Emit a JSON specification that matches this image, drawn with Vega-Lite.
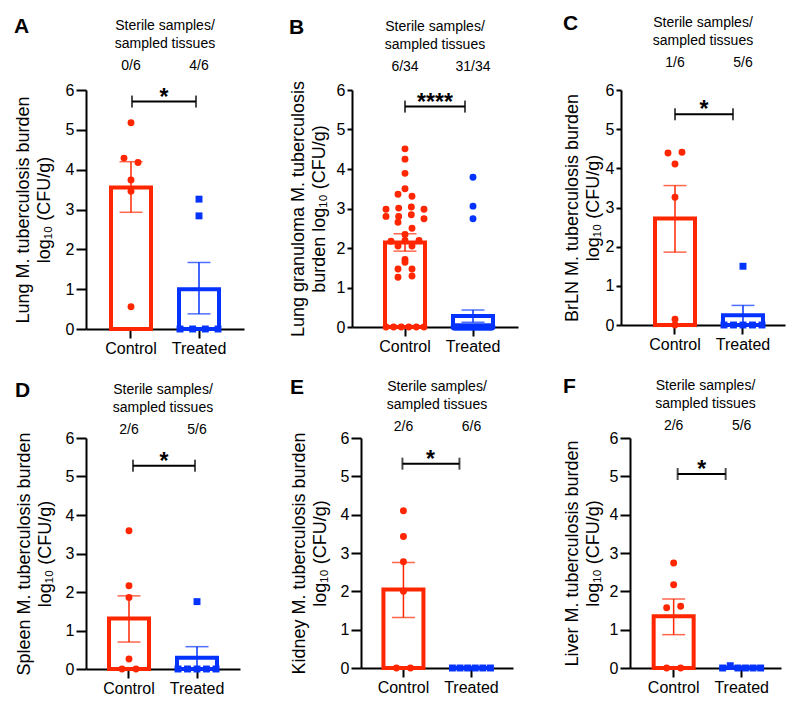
{
  "$schema": "https://vega.github.io/schema/vega-lite/v6.json",
  "padding": {"left": 14, "top": 12, "right": 4, "bottom": 4},
  "datasets": {
    "pts": [
      {"panel": "A", "group": "Control", "value": 5.18},
      {"panel": "A", "group": "Control", "value": 4.29},
      {"panel": "A", "group": "Control", "value": 4.18},
      {"panel": "A", "group": "Control", "value": 3.74},
      {"panel": "A", "group": "Control", "value": 3.46},
      {"panel": "A", "group": "Control", "value": 0.56},
      {"panel": "A", "group": "Treated", "value": 3.26},
      {"panel": "A", "group": "Treated", "value": 2.84},
      {"panel": "A", "group": "Treated", "value": 0},
      {"panel": "A", "group": "Treated", "value": 0},
      {"panel": "A", "group": "Treated", "value": 0},
      {"panel": "A", "group": "Treated", "value": 0},
      {"panel": "B", "group": "Control", "value": 4.51},
      {"panel": "B", "group": "Control", "value": 4.25},
      {"panel": "B", "group": "Control", "value": 3.89},
      {"panel": "B", "group": "Control", "value": 3.5},
      {"panel": "B", "group": "Control", "value": 3.36},
      {"panel": "B", "group": "Control", "value": 3.31},
      {"panel": "B", "group": "Control", "value": 2.98},
      {"panel": "B", "group": "Control", "value": 3.01},
      {"panel": "B", "group": "Control", "value": 3.04},
      {"panel": "B", "group": "Control", "value": 2.98},
      {"panel": "B", "group": "Control", "value": 2.8},
      {"panel": "B", "group": "Control", "value": 2.8},
      {"panel": "B", "group": "Control", "value": 2.84},
      {"panel": "B", "group": "Control", "value": 2.74},
      {"panel": "B", "group": "Control", "value": 2.65},
      {"panel": "B", "group": "Control", "value": 2.5},
      {"panel": "B", "group": "Control", "value": 2.34},
      {"panel": "B", "group": "Control", "value": 2.17},
      {"panel": "B", "group": "Control", "value": 2.19},
      {"panel": "B", "group": "Control", "value": 2.19},
      {"panel": "B", "group": "Control", "value": 2.05},
      {"panel": "B", "group": "Control", "value": 2.05},
      {"panel": "B", "group": "Control", "value": 1.71},
      {"panel": "B", "group": "Control", "value": 1.64},
      {"panel": "B", "group": "Control", "value": 1.47},
      {"panel": "B", "group": "Control", "value": 1.47},
      {"panel": "B", "group": "Control", "value": 1.26},
      {"panel": "B", "group": "Control", "value": 1.29},
      {"panel": "B", "group": "Control", "value": 0},
      {"panel": "B", "group": "Control", "value": 0},
      {"panel": "B", "group": "Control", "value": 0},
      {"panel": "B", "group": "Control", "value": 0},
      {"panel": "B", "group": "Control", "value": 0},
      {"panel": "B", "group": "Control", "value": 0},
      {"panel": "B", "group": "Treated", "value": 3.79},
      {"panel": "B", "group": "Treated", "value": 3.06},
      {"panel": "B", "group": "Treated", "value": 2.74},
      {"panel": "B", "group": "Treated", "value": 0},
      {"panel": "B", "group": "Treated", "value": 0},
      {"panel": "B", "group": "Treated", "value": 0},
      {"panel": "B", "group": "Treated", "value": 0},
      {"panel": "B", "group": "Treated", "value": 0},
      {"panel": "B", "group": "Treated", "value": 0},
      {"panel": "B", "group": "Treated", "value": 0},
      {"panel": "B", "group": "Treated", "value": 0},
      {"panel": "B", "group": "Treated", "value": 0},
      {"panel": "B", "group": "Treated", "value": 0},
      {"panel": "B", "group": "Treated", "value": 0},
      {"panel": "B", "group": "Treated", "value": 0},
      {"panel": "B", "group": "Treated", "value": 0},
      {"panel": "B", "group": "Treated", "value": 0},
      {"panel": "B", "group": "Treated", "value": 0},
      {"panel": "B", "group": "Treated", "value": 0},
      {"panel": "B", "group": "Treated", "value": 0},
      {"panel": "B", "group": "Treated", "value": 0},
      {"panel": "B", "group": "Treated", "value": 0},
      {"panel": "B", "group": "Treated", "value": 0},
      {"panel": "B", "group": "Treated", "value": 0},
      {"panel": "B", "group": "Treated", "value": 0},
      {"panel": "B", "group": "Treated", "value": 0},
      {"panel": "B", "group": "Treated", "value": 0},
      {"panel": "B", "group": "Treated", "value": 0},
      {"panel": "B", "group": "Treated", "value": 0},
      {"panel": "B", "group": "Treated", "value": 0},
      {"panel": "B", "group": "Treated", "value": 0},
      {"panel": "B", "group": "Treated", "value": 0},
      {"panel": "B", "group": "Treated", "value": 0},
      {"panel": "B", "group": "Treated", "value": 0},
      {"panel": "C", "group": "Control", "value": 4.39},
      {"panel": "C", "group": "Control", "value": 4.41},
      {"panel": "C", "group": "Control", "value": 4.11},
      {"panel": "C", "group": "Control", "value": 3.26},
      {"panel": "C", "group": "Control", "value": 0},
      {"panel": "C", "group": "Control", "value": 0.15},
      {"panel": "C", "group": "Treated", "value": 1.5},
      {"panel": "C", "group": "Treated", "value": 0},
      {"panel": "C", "group": "Treated", "value": 0},
      {"panel": "C", "group": "Treated", "value": 0},
      {"panel": "C", "group": "Treated", "value": 0},
      {"panel": "C", "group": "Treated", "value": 0},
      {"panel": "D", "group": "Control", "value": 3.59},
      {"panel": "D", "group": "Control", "value": 2.16},
      {"panel": "D", "group": "Control", "value": 1.86},
      {"panel": "D", "group": "Control", "value": 0.26},
      {"panel": "D", "group": "Control", "value": 0},
      {"panel": "D", "group": "Control", "value": 0},
      {"panel": "D", "group": "Treated", "value": 1.75},
      {"panel": "D", "group": "Treated", "value": 0},
      {"panel": "D", "group": "Treated", "value": 0},
      {"panel": "D", "group": "Treated", "value": 0},
      {"panel": "D", "group": "Treated", "value": 0},
      {"panel": "D", "group": "Treated", "value": 0},
      {"panel": "E", "group": "Control", "value": 4.1},
      {"panel": "E", "group": "Control", "value": 3.43},
      {"panel": "E", "group": "Control", "value": 2.77},
      {"panel": "E", "group": "Control", "value": 2.0},
      {"panel": "E", "group": "Control", "value": 0},
      {"panel": "E", "group": "Control", "value": 0},
      {"panel": "E", "group": "Treated", "value": 0},
      {"panel": "E", "group": "Treated", "value": 0},
      {"panel": "E", "group": "Treated", "value": 0},
      {"panel": "E", "group": "Treated", "value": 0},
      {"panel": "E", "group": "Treated", "value": 0},
      {"panel": "E", "group": "Treated", "value": 0},
      {"panel": "F", "group": "Control", "value": 2.74},
      {"panel": "F", "group": "Control", "value": 2.17},
      {"panel": "F", "group": "Control", "value": 1.57},
      {"panel": "F", "group": "Control", "value": 1.61},
      {"panel": "F", "group": "Control", "value": 0},
      {"panel": "F", "group": "Control", "value": 0},
      {"panel": "F", "group": "Treated", "value": 0},
      {"panel": "F", "group": "Treated", "value": 0.06},
      {"panel": "F", "group": "Treated", "value": 0},
      {"panel": "F", "group": "Treated", "value": 0},
      {"panel": "F", "group": "Treated", "value": 0},
      {"panel": "F", "group": "Treated", "value": 0}
    ],
    "bars": [
      {"panel": "A", "group": "Control", "mean": 3.55, "lo": 2.93, "hi": 4.2},
      {"panel": "A", "group": "Treated", "mean": 1.0, "lo": 0.38, "hi": 1.67},
      {"panel": "B", "group": "Control", "mean": 2.14, "lo": 1.92, "hi": 2.36},
      {"panel": "B", "group": "Treated", "mean": 0.28, "lo": 0.12, "hi": 0.43},
      {"panel": "C", "group": "Control", "mean": 2.72, "lo": 1.86, "hi": 3.56},
      {"panel": "C", "group": "Treated", "mean": 0.25, "lo": 0.0, "hi": 0.5},
      {"panel": "D", "group": "Control", "mean": 1.31, "lo": 0.7, "hi": 1.9},
      {"panel": "D", "group": "Treated", "mean": 0.29, "lo": 0.0, "hi": 0.58},
      {"panel": "E", "group": "Control", "mean": 2.05, "lo": 1.32, "hi": 2.75},
      {"panel": "E", "group": "Treated", "mean": 0.0, "lo": 0.0, "hi": 0.0},
      {"panel": "F", "group": "Control", "mean": 1.35, "lo": 0.87, "hi": 1.8},
      {"panel": "F", "group": "Treated", "mean": 0.01, "lo": 0.0, "hi": 0.02}
    ],
    "cnt": [
      {"panel": "A", "group": "Control", "label": "0/6"},
      {"panel": "A", "group": "Treated", "label": "4/6"},
      {"panel": "B", "group": "Control", "label": "6/34"},
      {"panel": "B", "group": "Treated", "label": "31/34"},
      {"panel": "C", "group": "Control", "label": "1/6"},
      {"panel": "C", "group": "Treated", "label": "5/6"},
      {"panel": "D", "group": "Control", "label": "2/6"},
      {"panel": "D", "group": "Treated", "label": "5/6"},
      {"panel": "E", "group": "Control", "label": "2/6"},
      {"panel": "E", "group": "Treated", "label": "6/6"},
      {"panel": "F", "group": "Control", "label": "2/6"},
      {"panel": "F", "group": "Treated", "label": "5/6"}
    ],
    "sig": [
      {"panel": "A", "y": 5.71, "stars": "*"},
      {"panel": "B", "y": 5.58, "stars": "****"},
      {"panel": "C", "y": 5.38, "stars": "*"},
      {"panel": "D", "y": 5.28, "stars": "*"},
      {"panel": "E", "y": 5.33, "stars": "*"},
      {"panel": "F", "y": 5.06, "stars": "*"}
    ]
  },
  "spacing": 20,
  "vconcat": [
    {
      "spacing": 45,
      "hconcat": [
        {
          "title": {"text": "A", "anchor": "start", "offset": -18, "fontSize": 21, "fontWeight": "bold", "color": "black"},
          "vconcat": [{
            "width": 158, "height": 239,
            "title": {"text": ["Sterile samples/", "sampled tissues"], "frame": "group", "anchor": "middle", "fontSize": 14, "fontWeight": "normal", "lineHeight": 18, "offset": 8, "color": "black"},
            "resolve": {"scale": {"xOffset": "independent"}},
            "layer": [
              {"data": {"name": "bars"}, "transform": [{"filter": "datum.panel === 'A'"}],
               "mark": {"type": "bar", "filled": false, "strokeWidth": 4, "strokeJoin": "miter"},
               "encoding": {
                 "x": {"field": "group", "type": "nominal", "scale": {"domain": ["Control", "Treated"], "paddingInner": 0.4118, "paddingOuter": 0.3676, "align": 0.5}, "axis": {"title": null}},
                 "y": {"field": "mean", "type": "quantitative", "scale": {"domain": [0, 6], "nice": false}, "axis": {"values": [0, 1, 2, 3, 4, 5, 6], "tickCount": 7, "tickSize": 10, "titlePadding": 12, "title": ["Lung M. tuberculosis burden", "log₁₀ (CFU/g)"]}},
                 "color": {"field": "group", "type": "nominal", "scale": {"domain": ["Control", "Treated"], "range": ["#FF2600", "#0433FF"]}, "legend": null}}},
              {"data": {"name": "bars"}, "transform": [{"filter": "datum.panel === 'A'"}],
               "mark": {"type": "rule", "strokeWidth": 1.5},
               "encoding": {"x": {"field": "group", "type": "nominal"}, "y": {"field": "lo", "type": "quantitative", "axis": {"values": [0, 1, 2, 3, 4, 5, 6], "tickCount": 7}}, "y2": {"field": "hi"}, "color": {"field": "group", "type": "nominal", "legend": null}}},
              {"data": {"name": "bars"}, "transform": [{"filter": "datum.panel === 'A'"}],
               "mark": {"type": "tick", "size": 23, "thickness": 1.5},
               "encoding": {"x": {"field": "group", "type": "nominal"}, "y": {"field": "hi", "type": "quantitative", "axis": {"values": [0, 1, 2, 3, 4, 5, 6], "tickCount": 7}}, "color": {"field": "group", "type": "nominal", "legend": null}}},
              {"data": {"name": "bars"}, "transform": [{"filter": "datum.panel === 'A'"}],
               "mark": {"type": "tick", "size": 23, "thickness": 1.5},
               "encoding": {"x": {"field": "group", "type": "nominal"}, "y": {"field": "lo", "type": "quantitative", "axis": {"values": [0, 1, 2, 3, 4, 5, 6], "tickCount": 7}}, "color": {"field": "group", "type": "nominal", "legend": null}}},
              {"data": {"name": "pts"}, "transform": [
                 {"filter": "datum.panel === 'A'"},
                 {"bin": {"step": 0.2, "anchor": 0.1}, "field": "value", "as": "vb"},
                 {"window": [{"op": "row_number", "as": "rn"}, {"op": "count", "as": "cnt"}], "groupby": ["group", "vb"], "frame": [null, null]},
                 {"calculate": "(datum.rn - (datum.cnt + 1) / 2) * min(14, 38 / max(datum.cnt - 1, 1))", "as": "off"}],
               "mark": {"type": "point", "filled": true, "size": 48, "opacity": 1},
               "encoding": {"x": {"field": "group", "type": "nominal"}, "xOffset": {"field": "off", "type": "quantitative", "scale": {"domain": [-20, 20], "range": [0, 40]}}, "y": {"field": "value", "type": "quantitative", "axis": {"values": [0, 1, 2, 3, 4, 5, 6], "tickCount": 7}},
                 "color": {"field": "group", "type": "nominal", "legend": null},
                 "shape": {"field": "group", "type": "nominal", "scale": {"domain": ["Control", "Treated"], "range": ["circle", "square"]}, "legend": null}}},
              {"data": {"name": "cnt"}, "transform": [{"filter": "datum.panel === 'A'"}],
               "mark": {"type": "text", "fontSize": 14, "baseline": "middle", "color": "black"},
               "encoding": {"x": {"field": "group", "type": "nominal"}, "y": {"datum": 6.6, "type": "quantitative"}, "text": {"field": "label"}}},
              {"data": {"name": "sig"}, "transform": [{"filter": "datum.panel === 'A'"}],
               "mark": {"type": "rule", "strokeWidth": 2, "color": "black", "xOffset": 1, "x2Offset": -3},
               "encoding": {"x": {"datum": "Control", "type": "nominal"}, "x2": {"datum": "Treated"}, "y": {"field": "y", "type": "quantitative", "axis": {"values": [0, 1, 2, 3, 4, 5, 6], "tickCount": 7}}}},
              {"data": {"name": "sig"}, "transform": [{"filter": "datum.panel === 'A'"}],
               "mark": {"type": "tick", "orient": "vertical", "size": 12, "thickness": 2, "color": "black", "xOffset": 1},
               "encoding": {"x": {"datum": "Control", "type": "nominal"}, "y": {"field": "y", "type": "quantitative", "axis": {"values": [0, 1, 2, 3, 4, 5, 6], "tickCount": 7}}}},
              {"data": {"name": "sig"}, "transform": [{"filter": "datum.panel === 'A'"}],
               "mark": {"type": "tick", "orient": "vertical", "size": 12, "thickness": 2, "color": "black", "xOffset": -3},
               "encoding": {"x": {"datum": "Treated", "type": "nominal"}, "y": {"field": "y", "type": "quantitative", "axis": {"values": [0, 1, 2, 3, 4, 5, 6], "tickCount": 7}}}},
              {"data": {"name": "sig"}, "transform": [{"filter": "datum.panel === 'A'"}],
               "mark": {"type": "text", "fontSize": 23, "fontWeight": "bold", "dx": 33, "dy": 3, "baseline": "alphabetic", "color": "black"},
               "encoding": {"x": {"datum": "Control", "type": "nominal"}, "y": {"field": "y", "type": "quantitative", "axis": {"values": [0, 1, 2, 3, 4, 5, 6], "tickCount": 7}}, "text": {"field": "stars"}}}
            ]
          }]
        },
        {
          "title": {"text": "B", "anchor": "start", "offset": -18, "fontSize": 21, "fontWeight": "bold", "color": "black"},
          "vconcat": [{
            "width": 166, "height": 237,
            "title": {"text": ["Sterile samples/", "sampled tissues"], "frame": "group", "anchor": "middle", "fontSize": 14, "fontWeight": "normal", "lineHeight": 18, "offset": 8, "color": "black"},
            "resolve": {"scale": {"xOffset": "independent"}},
            "layer": [
              {"data": {"name": "bars"}, "transform": [{"filter": "datum.panel === 'B'"}],
               "mark": {"type": "bar", "filled": false, "strokeWidth": 4, "strokeJoin": "miter"},
               "encoding": {
                 "x": {"field": "group", "type": "nominal", "scale": {"domain": ["Control", "Treated"], "paddingInner": 0.4118, "paddingOuter": 0.4265, "align": 0.569}, "axis": {"title": null}},
                 "y": {"field": "mean", "type": "quantitative", "scale": {"domain": [0, 6], "nice": false}, "axis": {"values": [0, 1, 2, 3, 4, 5, 6], "tickCount": 7, "tickSize": 5, "titlePadding": 8, "title": ["Lung granuloma M. tuberculosis", "burden log₁₀ (CFU/g)"]}},
                 "color": {"field": "group", "type": "nominal", "scale": {"domain": ["Control", "Treated"], "range": ["#FF2600", "#0433FF"]}, "legend": null}}},
              {"data": {"name": "bars"}, "transform": [{"filter": "datum.panel === 'B'"}],
               "mark": {"type": "rule", "strokeWidth": 1.5},
               "encoding": {"x": {"field": "group", "type": "nominal"}, "y": {"field": "lo", "type": "quantitative", "axis": {"values": [0, 1, 2, 3, 4, 5, 6], "tickCount": 7}}, "y2": {"field": "hi"}, "color": {"field": "group", "type": "nominal", "legend": null}}},
              {"data": {"name": "bars"}, "transform": [{"filter": "datum.panel === 'B'"}],
               "mark": {"type": "tick", "size": 23, "thickness": 1.5},
               "encoding": {"x": {"field": "group", "type": "nominal"}, "y": {"field": "hi", "type": "quantitative", "axis": {"values": [0, 1, 2, 3, 4, 5, 6], "tickCount": 7}}, "color": {"field": "group", "type": "nominal", "legend": null}}},
              {"data": {"name": "bars"}, "transform": [{"filter": "datum.panel === 'B'"}],
               "mark": {"type": "tick", "size": 23, "thickness": 1.5},
               "encoding": {"x": {"field": "group", "type": "nominal"}, "y": {"field": "lo", "type": "quantitative", "axis": {"values": [0, 1, 2, 3, 4, 5, 6], "tickCount": 7}}, "color": {"field": "group", "type": "nominal", "legend": null}}},
              {"data": {"name": "pts"}, "transform": [
                 {"filter": "datum.panel === 'B'"},
                 {"bin": {"step": 0.2, "anchor": 0.1}, "field": "value", "as": "vb"},
                 {"window": [{"op": "row_number", "as": "rn"}, {"op": "count", "as": "cnt"}], "groupby": ["group", "vb"], "frame": [null, null]},
                 {"calculate": "(datum.rn - (datum.cnt + 1) / 2) * min(14, 38 / max(datum.cnt - 1, 1))", "as": "off"}],
               "mark": {"type": "point", "filled": true, "size": 48, "opacity": 1, "shape": "circle"},
               "encoding": {"x": {"field": "group", "type": "nominal"}, "xOffset": {"field": "off", "type": "quantitative", "scale": {"domain": [-20, 20], "range": [0, 40]}}, "y": {"field": "value", "type": "quantitative", "axis": {"values": [0, 1, 2, 3, 4, 5, 6], "tickCount": 7}},
                 "color": {"field": "group", "type": "nominal", "legend": null}}},
              {"data": {"name": "cnt"}, "transform": [{"filter": "datum.panel === 'B'"}],
               "mark": {"type": "text", "fontSize": 14, "baseline": "middle", "color": "black"},
               "encoding": {"x": {"field": "group", "type": "nominal"}, "y": {"datum": 6.59, "type": "quantitative"}, "text": {"field": "label"}}},
              {"data": {"name": "sig"}, "transform": [{"filter": "datum.panel === 'B'"}],
               "mark": {"type": "rule", "strokeWidth": 2, "color": "black", "xOffset": 0, "x2Offset": -8},
               "encoding": {"x": {"datum": "Control", "type": "nominal"}, "x2": {"datum": "Treated"}, "y": {"field": "y", "type": "quantitative", "axis": {"values": [0, 1, 2, 3, 4, 5, 6], "tickCount": 7}}}},
              {"data": {"name": "sig"}, "transform": [{"filter": "datum.panel === 'B'"}],
               "mark": {"type": "tick", "orient": "vertical", "size": 12, "thickness": 2, "color": "black", "xOffset": 0},
               "encoding": {"x": {"datum": "Control", "type": "nominal"}, "y": {"field": "y", "type": "quantitative", "axis": {"values": [0, 1, 2, 3, 4, 5, 6], "tickCount": 7}}}},
              {"data": {"name": "sig"}, "transform": [{"filter": "datum.panel === 'B'"}],
               "mark": {"type": "tick", "orient": "vertical", "size": 12, "thickness": 2, "color": "black", "xOffset": -8},
               "encoding": {"x": {"datum": "Treated", "type": "nominal"}, "y": {"field": "y", "type": "quantitative", "axis": {"values": [0, 1, 2, 3, 4, 5, 6], "tickCount": 7}}}},
              {"data": {"name": "sig"}, "transform": [{"filter": "datum.panel === 'B'"}],
               "mark": {"type": "text", "fontSize": 23, "fontWeight": "bold", "dx": 30, "dy": 3, "baseline": "alphabetic", "color": "black"},
               "encoding": {"x": {"datum": "Control", "type": "nominal"}, "y": {"field": "y", "type": "quantitative", "axis": {"values": [0, 1, 2, 3, 4, 5, 6], "tickCount": 7}}, "text": {"field": "stars"}}}
            ]
          }]
        },
        {
          "title": {"text": "C", "anchor": "start", "offset": -18, "fontSize": 21, "fontWeight": "bold", "color": "black"},
          "vconcat": [{
            "width": 164, "height": 235,
            "title": {"text": ["Sterile samples/", "sampled tissues"], "frame": "group", "anchor": "middle", "fontSize": 14, "fontWeight": "normal", "lineHeight": 18, "offset": 8, "color": "black"},
            "resolve": {"scale": {"xOffset": "independent"}},
            "layer": [
              {"data": {"name": "bars"}, "transform": [{"filter": "datum.panel === 'C'"}],
               "mark": {"type": "bar", "filled": false, "strokeWidth": 4, "strokeJoin": "miter"},
               "encoding": {
                 "x": {"field": "group", "type": "nominal", "scale": {"domain": ["Control", "Treated"], "paddingInner": 0.4118, "paddingOuter": 0.4118, "align": 0.607}, "axis": {"title": null}},
                 "y": {"field": "mean", "type": "quantitative", "scale": {"domain": [0, 6], "nice": false}, "axis": {"values": [0, 1, 2, 3, 4, 5, 6], "tickCount": 7, "tickSize": 5, "titlePadding": 3, "title": ["BrLN M. tuberculosis burden", "log₁₀ (CFU/g)"]}},
                 "color": {"field": "group", "type": "nominal", "scale": {"domain": ["Control", "Treated"], "range": ["#FF2600", "#0433FF"]}, "legend": null}}},
              {"data": {"name": "bars"}, "transform": [{"filter": "datum.panel === 'C'"}],
               "mark": {"type": "rule", "strokeWidth": 1.5},
               "encoding": {"x": {"field": "group", "type": "nominal"}, "y": {"field": "lo", "type": "quantitative", "axis": {"values": [0, 1, 2, 3, 4, 5, 6], "tickCount": 7}}, "y2": {"field": "hi"}, "color": {"field": "group", "type": "nominal", "legend": null}}},
              {"data": {"name": "bars"}, "transform": [{"filter": "datum.panel === 'C'"}],
               "mark": {"type": "tick", "size": 23, "thickness": 1.5},
               "encoding": {"x": {"field": "group", "type": "nominal"}, "y": {"field": "hi", "type": "quantitative", "axis": {"values": [0, 1, 2, 3, 4, 5, 6], "tickCount": 7}}, "color": {"field": "group", "type": "nominal", "legend": null}}},
              {"data": {"name": "bars"}, "transform": [{"filter": "datum.panel === 'C'"}],
               "mark": {"type": "tick", "size": 23, "thickness": 1.5},
               "encoding": {"x": {"field": "group", "type": "nominal"}, "y": {"field": "lo", "type": "quantitative", "axis": {"values": [0, 1, 2, 3, 4, 5, 6], "tickCount": 7}}, "color": {"field": "group", "type": "nominal", "legend": null}}},
              {"data": {"name": "pts"}, "transform": [
                 {"filter": "datum.panel === 'C'"},
                 {"bin": {"step": 0.2, "anchor": 0.1}, "field": "value", "as": "vb"},
                 {"window": [{"op": "row_number", "as": "rn"}, {"op": "count", "as": "cnt"}], "groupby": ["group", "vb"], "frame": [null, null]},
                 {"calculate": "(datum.rn - (datum.cnt + 1) / 2) * min(14, 38 / max(datum.cnt - 1, 1))", "as": "off"}],
               "mark": {"type": "point", "filled": true, "size": 48, "opacity": 1},
               "encoding": {"x": {"field": "group", "type": "nominal"}, "xOffset": {"field": "off", "type": "quantitative", "scale": {"domain": [-20, 20], "range": [0, 40]}}, "y": {"field": "value", "type": "quantitative", "axis": {"values": [0, 1, 2, 3, 4, 5, 6], "tickCount": 7}},
                 "color": {"field": "group", "type": "nominal", "legend": null},
                 "shape": {"field": "group", "type": "nominal", "scale": {"domain": ["Control", "Treated"], "range": ["circle", "square"]}, "legend": null}}},
              {"data": {"name": "cnt"}, "transform": [{"filter": "datum.panel === 'C'"}],
               "mark": {"type": "text", "fontSize": 14, "baseline": "middle", "color": "black"},
               "encoding": {"x": {"field": "group", "type": "nominal"}, "y": {"datum": 6.7, "type": "quantitative"}, "text": {"field": "label"}}},
              {"data": {"name": "sig"}, "transform": [{"filter": "datum.panel === 'C'"}],
               "mark": {"type": "rule", "strokeWidth": 2, "color": "black", "xOffset": 0, "x2Offset": -10},
               "encoding": {"x": {"datum": "Control", "type": "nominal"}, "x2": {"datum": "Treated"}, "y": {"field": "y", "type": "quantitative", "axis": {"values": [0, 1, 2, 3, 4, 5, 6], "tickCount": 7}}}},
              {"data": {"name": "sig"}, "transform": [{"filter": "datum.panel === 'C'"}],
               "mark": {"type": "tick", "orient": "vertical", "size": 12, "thickness": 2, "color": "black", "xOffset": 0},
               "encoding": {"x": {"datum": "Control", "type": "nominal"}, "y": {"field": "y", "type": "quantitative", "axis": {"values": [0, 1, 2, 3, 4, 5, 6], "tickCount": 7}}}},
              {"data": {"name": "sig"}, "transform": [{"filter": "datum.panel === 'C'"}],
               "mark": {"type": "tick", "orient": "vertical", "size": 12, "thickness": 2, "color": "black", "xOffset": -10},
               "encoding": {"x": {"datum": "Treated", "type": "nominal"}, "y": {"field": "y", "type": "quantitative", "axis": {"values": [0, 1, 2, 3, 4, 5, 6], "tickCount": 7}}}},
              {"data": {"name": "sig"}, "transform": [{"filter": "datum.panel === 'C'"}],
               "mark": {"type": "text", "fontSize": 23, "fontWeight": "bold", "dx": 29, "dy": 3, "baseline": "alphabetic", "color": "black"},
               "encoding": {"x": {"datum": "Control", "type": "nominal"}, "y": {"field": "y", "type": "quantitative", "axis": {"values": [0, 1, 2, 3, 4, 5, 6], "tickCount": 7}}, "text": {"field": "stars"}}}
            ]
          }]
        }
      ]
    },
    {
      "spacing": 50,
      "hconcat": [
        {
          "title": {"text": "D", "anchor": "start", "offset": -18, "fontSize": 21, "fontWeight": "bold", "color": "black"},
          "vconcat": [{
            "width": 154, "height": 231,
            "title": {"text": ["Sterile samples/", "sampled tissues"], "frame": "group", "anchor": "middle", "fontSize": 14, "fontWeight": "normal", "lineHeight": 18, "offset": 8, "color": "black"},
            "resolve": {"scale": {"xOffset": "independent"}},
            "layer": [
              {"data": {"name": "bars"}, "transform": [{"filter": "datum.panel === 'D'"}],
               "mark": {"type": "bar", "filled": false, "strokeWidth": 4, "strokeJoin": "miter"},
               "encoding": {
                 "x": {"field": "group", "type": "nominal", "scale": {"domain": ["Control", "Treated"], "paddingInner": 0.4118, "paddingOuter": 0.338, "align": 0.5}, "axis": {"title": null}},
                 "y": {"field": "mean", "type": "quantitative", "scale": {"domain": [0, 6], "nice": false}, "axis": {"values": [0, 1, 2, 3, 4, 5, 6], "tickCount": 7, "tickSize": 10, "titlePadding": 11, "title": ["Spleen M. tuberculosis burden", "log₁₀ (CFU/g)"]}},
                 "color": {"field": "group", "type": "nominal", "scale": {"domain": ["Control", "Treated"], "range": ["#FF2600", "#0433FF"]}, "legend": null}}},
              {"data": {"name": "bars"}, "transform": [{"filter": "datum.panel === 'D'"}],
               "mark": {"type": "rule", "strokeWidth": 1.5},
               "encoding": {"x": {"field": "group", "type": "nominal"}, "y": {"field": "lo", "type": "quantitative", "axis": {"values": [0, 1, 2, 3, 4, 5, 6], "tickCount": 7}}, "y2": {"field": "hi"}, "color": {"field": "group", "type": "nominal", "legend": null}}},
              {"data": {"name": "bars"}, "transform": [{"filter": "datum.panel === 'D'"}],
               "mark": {"type": "tick", "size": 23, "thickness": 1.5},
               "encoding": {"x": {"field": "group", "type": "nominal"}, "y": {"field": "hi", "type": "quantitative", "axis": {"values": [0, 1, 2, 3, 4, 5, 6], "tickCount": 7}}, "color": {"field": "group", "type": "nominal", "legend": null}}},
              {"data": {"name": "bars"}, "transform": [{"filter": "datum.panel === 'D'"}],
               "mark": {"type": "tick", "size": 23, "thickness": 1.5},
               "encoding": {"x": {"field": "group", "type": "nominal"}, "y": {"field": "lo", "type": "quantitative", "axis": {"values": [0, 1, 2, 3, 4, 5, 6], "tickCount": 7}}, "color": {"field": "group", "type": "nominal", "legend": null}}},
              {"data": {"name": "pts"}, "transform": [
                 {"filter": "datum.panel === 'D'"},
                 {"bin": {"step": 0.2, "anchor": 0.1}, "field": "value", "as": "vb"},
                 {"window": [{"op": "row_number", "as": "rn"}, {"op": "count", "as": "cnt"}], "groupby": ["group", "vb"], "frame": [null, null]},
                 {"calculate": "(datum.rn - (datum.cnt + 1) / 2) * min(14, 38 / max(datum.cnt - 1, 1))", "as": "off"}],
               "mark": {"type": "point", "filled": true, "size": 48, "opacity": 1},
               "encoding": {"x": {"field": "group", "type": "nominal"}, "xOffset": {"field": "off", "type": "quantitative", "scale": {"domain": [-20, 20], "range": [0, 40]}}, "y": {"field": "value", "type": "quantitative", "axis": {"values": [0, 1, 2, 3, 4, 5, 6], "tickCount": 7}},
                 "color": {"field": "group", "type": "nominal", "legend": null},
                 "shape": {"field": "group", "type": "nominal", "scale": {"domain": ["Control", "Treated"], "range": ["circle", "square"]}, "legend": null}}},
              {"data": {"name": "cnt"}, "transform": [{"filter": "datum.panel === 'D'"}],
               "mark": {"type": "text", "fontSize": 14, "baseline": "middle", "color": "black"},
               "encoding": {"x": {"field": "group", "type": "nominal"}, "y": {"datum": 6.21, "type": "quantitative"}, "text": {"field": "label"}}},
              {"data": {"name": "sig"}, "transform": [{"filter": "datum.panel === 'D'"}],
               "mark": {"type": "rule", "strokeWidth": 2, "color": "black", "xOffset": 4, "x2Offset": -2},
               "encoding": {"x": {"datum": "Control", "type": "nominal"}, "x2": {"datum": "Treated"}, "y": {"field": "y", "type": "quantitative", "axis": {"values": [0, 1, 2, 3, 4, 5, 6], "tickCount": 7}}}},
              {"data": {"name": "sig"}, "transform": [{"filter": "datum.panel === 'D'"}],
               "mark": {"type": "tick", "orient": "vertical", "size": 12, "thickness": 2, "color": "black", "xOffset": 4},
               "encoding": {"x": {"datum": "Control", "type": "nominal"}, "y": {"field": "y", "type": "quantitative", "axis": {"values": [0, 1, 2, 3, 4, 5, 6], "tickCount": 7}}}},
              {"data": {"name": "sig"}, "transform": [{"filter": "datum.panel === 'D'"}],
               "mark": {"type": "tick", "orient": "vertical", "size": 12, "thickness": 2, "color": "black", "xOffset": -2},
               "encoding": {"x": {"datum": "Treated", "type": "nominal"}, "y": {"field": "y", "type": "quantitative", "axis": {"values": [0, 1, 2, 3, 4, 5, 6], "tickCount": 7}}}},
              {"data": {"name": "sig"}, "transform": [{"filter": "datum.panel === 'D'"}],
               "mark": {"type": "text", "fontSize": 23, "fontWeight": "bold", "dx": 35, "dy": 3, "baseline": "alphabetic", "color": "black"},
               "encoding": {"x": {"datum": "Control", "type": "nominal"}, "y": {"field": "y", "type": "quantitative", "axis": {"values": [0, 1, 2, 3, 4, 5, 6], "tickCount": 7}}, "text": {"field": "stars"}}}
            ]
          }]
        },
        {
          "title": {"text": "E", "anchor": "start", "offset": -18, "fontSize": 21, "fontWeight": "bold", "color": "black"},
          "vconcat": [{
            "width": 152, "height": 230,
            "title": {"text": ["Sterile samples/", "sampled tissues"], "frame": "group", "anchor": "middle", "fontSize": 14, "fontWeight": "normal", "lineHeight": 18, "offset": 8, "color": "black"},
            "resolve": {"scale": {"xOffset": "independent"}},
            "layer": [
              {"data": {"name": "bars"}, "transform": [{"filter": "datum.panel === 'E'"}],
               "mark": {"type": "bar", "filled": false, "strokeWidth": 4, "strokeJoin": "miter"},
               "encoding": {
                 "x": {"field": "group", "type": "nominal", "scale": {"domain": ["Control", "Treated"], "paddingInner": 0.4118, "paddingOuter": 0.3235, "align": 0.51}, "axis": {"title": null}},
                 "y": {"field": "mean", "type": "quantitative", "scale": {"domain": [0, 6], "nice": false}, "axis": {"values": [0, 1, 2, 3, 4, 5, 6], "tickCount": 7, "tickSize": 10, "titlePadding": 11, "title": ["Kidney M. tuberculosis burden", "log₁₀ (CFU/g)"]}},
                 "color": {"field": "group", "type": "nominal", "scale": {"domain": ["Control", "Treated"], "range": ["#FF2600", "#0433FF"]}, "legend": null}}},
              {"data": {"name": "bars"}, "transform": [{"filter": "datum.panel === 'E'"}],
               "mark": {"type": "rule", "strokeWidth": 1.5},
               "encoding": {"x": {"field": "group", "type": "nominal"}, "y": {"field": "lo", "type": "quantitative", "axis": {"values": [0, 1, 2, 3, 4, 5, 6], "tickCount": 7}}, "y2": {"field": "hi"}, "color": {"field": "group", "type": "nominal", "legend": null}}},
              {"data": {"name": "bars"}, "transform": [{"filter": "datum.panel === 'E'"}],
               "mark": {"type": "tick", "size": 23, "thickness": 1.5},
               "encoding": {"x": {"field": "group", "type": "nominal"}, "y": {"field": "hi", "type": "quantitative", "axis": {"values": [0, 1, 2, 3, 4, 5, 6], "tickCount": 7}}, "color": {"field": "group", "type": "nominal", "legend": null}}},
              {"data": {"name": "bars"}, "transform": [{"filter": "datum.panel === 'E'"}],
               "mark": {"type": "tick", "size": 23, "thickness": 1.5},
               "encoding": {"x": {"field": "group", "type": "nominal"}, "y": {"field": "lo", "type": "quantitative", "axis": {"values": [0, 1, 2, 3, 4, 5, 6], "tickCount": 7}}, "color": {"field": "group", "type": "nominal", "legend": null}}},
              {"data": {"name": "pts"}, "transform": [
                 {"filter": "datum.panel === 'E'"},
                 {"bin": {"step": 0.2, "anchor": 0.1}, "field": "value", "as": "vb"},
                 {"window": [{"op": "row_number", "as": "rn"}, {"op": "count", "as": "cnt"}], "groupby": ["group", "vb"], "frame": [null, null]},
                 {"calculate": "(datum.rn - (datum.cnt + 1) / 2) * min(14, 38 / max(datum.cnt - 1, 1))", "as": "off"}],
               "mark": {"type": "point", "filled": true, "size": 48, "opacity": 1},
               "encoding": {"x": {"field": "group", "type": "nominal"}, "xOffset": {"field": "off", "type": "quantitative", "scale": {"domain": [-20, 20], "range": [0, 40]}}, "y": {"field": "value", "type": "quantitative", "axis": {"values": [0, 1, 2, 3, 4, 5, 6], "tickCount": 7}},
                 "color": {"field": "group", "type": "nominal", "legend": null},
                 "shape": {"field": "group", "type": "nominal", "scale": {"domain": ["Control", "Treated"], "range": ["circle", "square"]}, "legend": null}}},
              {"data": {"name": "cnt"}, "transform": [{"filter": "datum.panel === 'E'"}],
               "mark": {"type": "text", "fontSize": 14, "baseline": "middle", "color": "black"},
               "encoding": {"x": {"field": "group", "type": "nominal"}, "y": {"datum": 6.3, "type": "quantitative"}, "text": {"field": "label"}}},
              {"data": {"name": "sig"}, "transform": [{"filter": "datum.panel === 'E'"}],
               "mark": {"type": "rule", "strokeWidth": 2, "color": "black", "xOffset": -1, "x2Offset": -12},
               "encoding": {"x": {"datum": "Control", "type": "nominal"}, "x2": {"datum": "Treated"}, "y": {"field": "y", "type": "quantitative", "axis": {"values": [0, 1, 2, 3, 4, 5, 6], "tickCount": 7}}}},
              {"data": {"name": "sig"}, "transform": [{"filter": "datum.panel === 'E'"}],
               "mark": {"type": "tick", "orient": "vertical", "size": 12, "thickness": 2, "color": "black", "xOffset": -1},
               "encoding": {"x": {"datum": "Control", "type": "nominal"}, "y": {"field": "y", "type": "quantitative", "axis": {"values": [0, 1, 2, 3, 4, 5, 6], "tickCount": 7}}}},
              {"data": {"name": "sig"}, "transform": [{"filter": "datum.panel === 'E'"}],
               "mark": {"type": "tick", "orient": "vertical", "size": 12, "thickness": 2, "color": "black", "xOffset": -12},
               "encoding": {"x": {"datum": "Treated", "type": "nominal"}, "y": {"field": "y", "type": "quantitative", "axis": {"values": [0, 1, 2, 3, 4, 5, 6], "tickCount": 7}}}},
              {"data": {"name": "sig"}, "transform": [{"filter": "datum.panel === 'E'"}],
               "mark": {"type": "text", "fontSize": 23, "fontWeight": "bold", "dx": 27, "dy": 3, "baseline": "alphabetic", "color": "black"},
               "encoding": {"x": {"datum": "Control", "type": "nominal"}, "y": {"field": "y", "type": "quantitative", "axis": {"values": [0, 1, 2, 3, 4, 5, 6], "tickCount": 7}}, "text": {"field": "stars"}}}
            ]
          }]
        },
        {
          "title": {"text": "F", "anchor": "start", "offset": -18, "fontSize": 21, "fontWeight": "bold", "color": "black"},
          "vconcat": [{
            "width": 151, "height": 230,
            "title": {"text": ["Sterile samples/", "sampled tissues"], "frame": "group", "anchor": "middle", "fontSize": 14, "fontWeight": "normal", "lineHeight": 18, "offset": 8, "color": "black"},
            "resolve": {"scale": {"xOffset": "independent"}},
            "layer": [
              {"data": {"name": "bars"}, "transform": [{"filter": "datum.panel === 'F'"}],
               "mark": {"type": "bar", "filled": false, "strokeWidth": 4, "strokeJoin": "miter"},
               "encoding": {
                 "x": {"field": "group", "type": "nominal", "scale": {"domain": ["Control", "Treated"], "paddingInner": 0.4118, "paddingOuter": 0.3162, "align": 0.55}, "axis": {"title": null}},
                 "y": {"field": "mean", "type": "quantitative", "scale": {"domain": [0, 6], "nice": false}, "axis": {"values": [0, 1, 2, 3, 4, 5, 6], "tickCount": 7, "tickSize": 10, "titlePadding": 7, "title": ["Liver M. tuberculosis burden", "log₁₀ (CFU/g)"]}},
                 "color": {"field": "group", "type": "nominal", "scale": {"domain": ["Control", "Treated"], "range": ["#FF2600", "#0433FF"]}, "legend": null}}},
              {"data": {"name": "bars"}, "transform": [{"filter": "datum.panel === 'F'"}],
               "mark": {"type": "rule", "strokeWidth": 1.5},
               "encoding": {"x": {"field": "group", "type": "nominal"}, "y": {"field": "lo", "type": "quantitative", "axis": {"values": [0, 1, 2, 3, 4, 5, 6], "tickCount": 7}}, "y2": {"field": "hi"}, "color": {"field": "group", "type": "nominal", "legend": null}}},
              {"data": {"name": "bars"}, "transform": [{"filter": "datum.panel === 'F'"}],
               "mark": {"type": "tick", "size": 23, "thickness": 1.5},
               "encoding": {"x": {"field": "group", "type": "nominal"}, "y": {"field": "hi", "type": "quantitative", "axis": {"values": [0, 1, 2, 3, 4, 5, 6], "tickCount": 7}}, "color": {"field": "group", "type": "nominal", "legend": null}}},
              {"data": {"name": "bars"}, "transform": [{"filter": "datum.panel === 'F'"}],
               "mark": {"type": "tick", "size": 23, "thickness": 1.5},
               "encoding": {"x": {"field": "group", "type": "nominal"}, "y": {"field": "lo", "type": "quantitative", "axis": {"values": [0, 1, 2, 3, 4, 5, 6], "tickCount": 7}}, "color": {"field": "group", "type": "nominal", "legend": null}}},
              {"data": {"name": "pts"}, "transform": [
                 {"filter": "datum.panel === 'F'"},
                 {"bin": {"step": 0.2, "anchor": 0.1}, "field": "value", "as": "vb"},
                 {"window": [{"op": "row_number", "as": "rn"}, {"op": "count", "as": "cnt"}], "groupby": ["group", "vb"], "frame": [null, null]},
                 {"calculate": "(datum.rn - (datum.cnt + 1) / 2) * min(14, 38 / max(datum.cnt - 1, 1))", "as": "off"}],
               "mark": {"type": "point", "filled": true, "size": 48, "opacity": 1},
               "encoding": {"x": {"field": "group", "type": "nominal"}, "xOffset": {"field": "off", "type": "quantitative", "scale": {"domain": [-20, 20], "range": [0, 40]}}, "y": {"field": "value", "type": "quantitative", "axis": {"values": [0, 1, 2, 3, 4, 5, 6], "tickCount": 7}},
                 "color": {"field": "group", "type": "nominal", "legend": null},
                 "shape": {"field": "group", "type": "nominal", "scale": {"domain": ["Control", "Treated"], "range": ["circle", "square"]}, "legend": null}}},
              {"data": {"name": "cnt"}, "transform": [{"filter": "datum.panel === 'F'"}],
               "mark": {"type": "text", "fontSize": 14, "baseline": "middle", "color": "black"},
               "encoding": {"x": {"field": "group", "type": "nominal"}, "y": {"datum": 6.31, "type": "quantitative"}, "text": {"field": "label"}}},
              {"data": {"name": "sig"}, "transform": [{"filter": "datum.panel === 'F'"}],
               "mark": {"type": "rule", "strokeWidth": 2, "color": "black", "xOffset": 4, "x2Offset": -16},
               "encoding": {"x": {"datum": "Control", "type": "nominal"}, "x2": {"datum": "Treated"}, "y": {"field": "y", "type": "quantitative", "axis": {"values": [0, 1, 2, 3, 4, 5, 6], "tickCount": 7}}}},
              {"data": {"name": "sig"}, "transform": [{"filter": "datum.panel === 'F'"}],
               "mark": {"type": "tick", "orient": "vertical", "size": 12, "thickness": 2, "color": "black", "xOffset": 4},
               "encoding": {"x": {"datum": "Control", "type": "nominal"}, "y": {"field": "y", "type": "quantitative", "axis": {"values": [0, 1, 2, 3, 4, 5, 6], "tickCount": 7}}}},
              {"data": {"name": "sig"}, "transform": [{"filter": "datum.panel === 'F'"}],
               "mark": {"type": "tick", "orient": "vertical", "size": 12, "thickness": 2, "color": "black", "xOffset": -16},
               "encoding": {"x": {"datum": "Treated", "type": "nominal"}, "y": {"field": "y", "type": "quantitative", "axis": {"values": [0, 1, 2, 3, 4, 5, 6], "tickCount": 7}}}},
              {"data": {"name": "sig"}, "transform": [{"filter": "datum.panel === 'F'"}],
               "mark": {"type": "text", "fontSize": 23, "fontWeight": "bold", "dx": 28, "dy": 3, "baseline": "alphabetic", "color": "black"},
               "encoding": {"x": {"datum": "Control", "type": "nominal"}, "y": {"field": "y", "type": "quantitative", "axis": {"values": [0, 1, 2, 3, 4, 5, 6], "tickCount": 7}}, "text": {"field": "stars"}}}
            ]
          }]
        }
      ]
    }
  ],
  "config": {
    "view": {"stroke": null},
    "font": "Liberation Sans",
    "axis": {"domainColor": "black", "domainWidth": 2, "tickColor": "black", "tickWidth": 2, "tickSize": 9, "labelFontSize": 16, "labelColor": "black", "titleFontSize": 18, "titleFontWeight": "normal", "titleColor": "black", "titleLineHeight": 21, "grid": false, "labelPadding": 2},
    "axisX": {"labelAngle": 0, "labelPadding": 2},
    "axisY": {"titlePadding": 10, "tickCount": 7}
  }
}
